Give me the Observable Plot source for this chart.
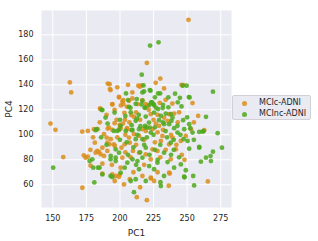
<!DOCTYPE html>
<html>
<head>
<meta charset="utf-8">
<script src="https://cdn.jsdelivr.net/npm/d3@7"></script>
<script src="https://cdn.jsdelivr.net/npm/@observablehq/plot@0.6"></script>
<style>
  body { margin: 0; background: #fff; }
  #wrap { position: relative; width: 318px; height: 241px; }
  g[aria-label="x-axis label"] text, g[aria-label="y-axis label"] text { font-size: 9px; }
  #legend { position: absolute; left: 232px; top: 95px; width: 79px; height: 25px; box-sizing: border-box;
    background: #eaeaf2; border: 1px solid #d0d0d6; border-radius: 2px;
    font-family: "DejaVu Sans", sans-serif; font-size: 8px; color: #262626; }
  .row { position: absolute; left: 0; height: 10px; line-height: 10px; }
  .dot { position: absolute; left: 9px; top: 2.5px; width: 5px; height: 5px; border-radius: 50%; }
  .lab { position: absolute; left: 26px; top: 0; white-space: nowrap; }
</style>
</head>
<body>
<div id="wrap"></div>
<script>
const groups = ["MCIc-ADNI", "MCInc-ADNI"];
const colors = ["#db8d1a", "#4ea81c"];
const xTicks = [150, 175, 200, 225, 250, 275];
const yTicks = [60, 80, 100, 120, 140, 160, 180];

// MCIc-ADNI: [PC1, PC4]
const mcic = [
[251,192],[220,157.5],[162.7,141.9],[163.7,133.9],[190.9,141],[192.3,140.5],[193,135.8],[213.7,139.3],[216,139.5],[214.9,138.5],
[226.6,141.6],[232.8,137.1],[245.8,140],[247,139.8],[148.3,109],[152,104],[157.8,82.2],[172,57.6],[220,47.7],[265.4,62.7],
[236.3,59.2],[237,69],[199.3,130.4],[209.2,129.1],[201.8,126.7],[200.7,123.5],[194.3,124.3],[216.7,127.8],[219.2,124.6],[185.4,121],
[203.3,117.6],[205.2,122.4],[208.5,115.7],[210.4,114.4],[221.4,120],[197.5,112],[196,109.3],[199.8,108],[203.7,112],[202.2,109],
[200,105.8],[205.2,105.3],[220.4,105.8],[216.7,104.5],[222.9,116.5],[191.8,105.8],[194.3,104],[254,125.4],[229.6,125.6],[236.6,116.5],
[240.3,117],[232.8,113.8],[235.4,111.2],[258.2,115.2],[226.6,109],[229.1,107.2],[262.7,103.7],[252.8,104.5],[183.4,104.5],[190.9,105],
[200.5,105],[205.5,104.5],[210.4,100.5],[206.7,97.8],[214.2,99.1],[219.2,103.1],[224.2,104.5],[186.9,89.7],[190.6,87.1],[188.1,83.1],
[183.1,87.1],[192.3,92.4],[196.1,91.1],[201.1,89.7],[203.5,92.4],[207.3,93.7],[209.7,87.1],[201.8,81.7],[214.2,85.7],[219.2,84.4],
[224.2,88.4],[222.9,80.4],[200.5,73.7],[207.3,64.4],[216.7,67],[222.9,65.6],[196.1,63],[199.8,68.3],[249,99.1],[245.3,95.1],
[241.6,88.4],[237.8,80.4],[236.6,69.7],[225.4,63],[223.1,65.1],[231.6,99.1],[236.6,92.4],[227.9,87.1],[230.4,95.1],[239.1,97.8],
[171.9,102.6],[176.1,103.1],[180.6,104.5],[173.1,83.6],[174.4,81.7],[176.1,82.5],[178.1,75.4],[181.3,93.7],[181.9,85.7],[184.4,86.3],
[186.9,76.9],[186.9,68.9],[185.6,84.4],[194.3,68.3],[199.3,66.4],[196.8,67],[203,60.3],[212.5,50.1],[188.1,100.5],[190.1,97.8],
[190.6,93.7],[193.1,96.5],[195.5,92.4],[185.1,121],[194.3,124.6],[199.3,129.9],[192.5,136.6],[202.5,127.8],[202.5,124.6],[206.7,127.2],
[209.2,133.9],[213,124.6],[220.4,123.2],
[212,118],[207,110],[215,112],[225,112],[218,96],[228,102],[232,104],[204,100],[198,98],[226,94],
[212,92],[208,82],[204,86],[218,76],[230,82],[234,88],[242,92],[246,84],[238,100],[228,116],
[244,118],[239,125],[234,128],[196,120],[190,116],[185,110],[180,98],[178,88],[194,76],[210,70],
[215,58],[228,70],[248,80],[243,110],[255,110],[198,138],[206,140],[230,145]
];

// MCInc-ADNI: [PC1, PC4]
const mcinc = [
[228.7,174],[222.4,171.4],[216.2,148.1],[217.9,134.7],[216.7,133.9],[222.2,135.8],[204.5,133.1],[246.6,139.3],[249.6,139.3],[222.7,135.3],
[241,132.9],[251.3,130.2],[244.6,129.6],[269.2,134.5],[217.5,139.5],[206,127.8],[211.7,124.8],[216,124.3],[223.1,125.6],[224.9,124.6],
[186.3,120],[196,117.8],[206.7,122.4],[207.8,121.6],[218.7,121.6],[212.7,113],[219.2,114.6],[189.3,113.8],[190.8,109],[182.6,104.5],
[208.7,107.7],[211.7,111.2],[215.2,106.9],[218.7,107.1],[221.6,109.8],[222.2,105.8],[208.7,103.7],[228.4,133.1],[229.9,133.1],[245.8,122.7],
[223.9,125.9],[225.4,123.8],[226.6,121.8],[228.4,120.6],[231.8,121.4],[225.4,117.8],[234.1,117],[237.8,116.5],[239.1,113.8],[230.4,115.2],
[238.3,111.2],[229.1,111.7],[232.8,108.5],[236.6,108.5],[242.8,107.2],[240.3,105.3],[247,111.7],[251.5,108.5],[252.3,105.3],[247.8,104.5],
[195.5,103.1],[199.3,103.9],[204.3,103.1],[209.3,103.9],[214.2,104.5],[219.2,105.8],[222.9,101.8],[211.7,96.5],[216.7,96.5],[196.8,88.4],
[199.3,85.7],[193,80.4],[196.8,79],[205.5,77.7],[209.3,80.4],[213,79],[216.7,81.7],[219.2,89.7],[221.7,75],[214.2,72.4],
[203.5,73.7],[184.8,73.7],[193,67],[186.9,68.3],[211.7,64.4],[219.2,63],[259,102.3],[262.2,102.9],[250.3,95.1],[251.5,88.9],
[259,89.7],[254,101.8],[247.3,96.5],[235.4,78.2],[240.3,73.7],[247.8,66.4],[230.4,59],[255.2,59.5],[264,81.7],[267.7,79],
[245.3,76.3],[232.8,67],[225.4,72.4],[227.9,77.7],[232.8,85.7],[237.8,93.7],[242.8,101.8],[150.3,73.7],[177.4,79],[179.4,80.4],
[180.1,73.7],[180.9,61.9],[183.6,73.7],[181.9,103.7],[193.1,83.1],[196.8,81.7],[194.3,66.2],[200.5,69.7],[208,63],[210.4,54.1],
[198,103.1],[200.5,107.2],[186.9,119.8],[212.5,128.6],[216.7,127.2],[218.4,121.8],[221.9,123.8],[223.4,125.9],[264,114.4],[251.8,129.9],
[272.7,101.3],[275.9,89.7],[269.2,86.5],[267.4,83],[260.2,78.5],[259,90.3],[261.5,102.6],[254.5,67],[248,66],[249,71.6],[230.1,62],
[213,100],[220,98],[225,100],[230,92],[226,88],[210,90],[205,94],[200,96],[215,86],[222,84],
[235,98],[240,96],[245,100],[232,124],[236,122],[214,116],[204,115],[200,112],[226,106],[234,103],
[240,88],[244,82],[228,80],[212,76],[206,84],[190,92],[186,98],[255,96],[250,114],[243,126],
[236,130],[226,130],[208,118],[218,92],[232,110],[238,84]
];

const data = [
  ...mcic.map(([x, y]) => ({x, y, g: groups[0]})),
  ...mcinc.map(([x, y]) => ({x, y, g: groups[1]}))
];

const chart = Plot.plot({
  width: 318,
  height: 241,
  marginLeft: 41,
  marginRight: 87,
  marginTop: 10,
  marginBottom: 34,
  style: {fontFamily: "DejaVu Sans, sans-serif", fontSize: "8px", color: "#262626", background: "#fff"},
  x: {domain: [141.6, 283], ticks: xTicks, tickSize: 0, tickPadding: 8, label: "PC1", labelAnchor: "center", labelArrow: "none", labelOffset: 28},
  y: {domain: [41.8, 199.5], ticks: yTicks, tickSize: 0, tickPadding: 8, label: "PC4", labelAnchor: "center", labelArrow: "none", labelOffset: 36},
  color: {domain: groups, range: colors},
  marks: [
    Plot.frame({fill: "#eaeaf2", stroke: null}),
    Plot.gridX(xTicks, {stroke: "#fff", strokeOpacity: 1, strokeWidth: 1}),
    Plot.gridY(yTicks, {stroke: "#fff", strokeOpacity: 1, strokeWidth: 1}),
    Plot.dot(data, {x: "x", y: "y", fill: "g", r: 2.4, fillOpacity: 0.85, stroke: null})
  ]
});
const wrap = document.getElementById("wrap");
wrap.appendChild(chart);

const legend = document.createElement("div");
legend.id = "legend";
groups.forEach((g, i) => {
  const row = document.createElement("div");
  row.className = "row";
  row.style.top = (2 + i * 11) + "px";
  row.style.width = "100%";
  const dot = document.createElement("div");
  dot.className = "dot";
  dot.style.background = colors[i];
  dot.style.opacity = 0.85;
  const lab = document.createElement("div");
  lab.className = "lab";
  lab.textContent = g;
  row.appendChild(dot);
  row.appendChild(lab);
  legend.appendChild(row);
});
wrap.appendChild(legend);
</script>
</body>
</html>
